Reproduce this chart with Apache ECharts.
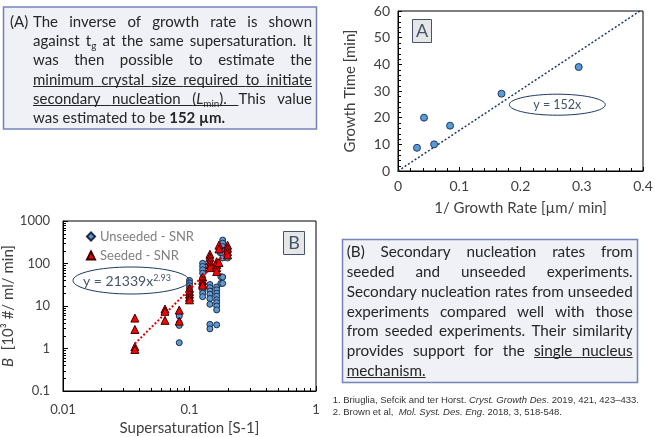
<!DOCTYPE html>
<html><head><meta charset="utf-8">
<script src="https://cdn.jsdelivr.net/npm/echarts@6/dist/echarts.min.js"></script>
<style>html,body{margin:0;padding:0;background:#fff}#c{width:655px;height:437px}</style>
</head><body><div id="c"></div>
<script>
// ---------- Chart A data ----------
const growthRateInv = [0.031, 0.0425, 0.059, 0.085, 0.169, 0.295];
const growthTime    = [8.7, 20, 10, 17, 29, 39];
const fitAX = [0, 0.395];
const fitAY = [0, 60];

// ---------- Chart B data ----------
const unseededS = [
  0.083,0.083,0.083,0.083,0.083,
  0.1,0.1,0.1,0.1,0.1,0.1,0.1,
  0.127,0.127,0.127,0.127,0.127,0.127,0.127,0.127,
  0.145,0.145,0.145,0.145,0.145,0.145,0.145,0.145,
  0.164,0.164,0.164,0.164,0.164,0.164,0.164,0.164,0.164,
  0.175,0.175,0.177,0.177,
  0.183,0.183,0.183,0.183,0.183,0.183,0.183,0.183,
  0.2,0.2,0.2,0.2
];
const unseededB = [
  6.7,5.8,4.0,3.5,1.37,
  40,35,30,26,22,18,15,
  101,85,71,59,45,24,20,16.6,
  32,27,22.5,19,15,11,3.7,2.9,
  28,24,20,17,14,12,10,8.1,3.6,
  230,180,49,34,
  355,300,250,205,170,135,48,34,
  210,175,150,135
];
const seededS = [
  0.037,0.037,0.037,0.037,
  0.064,0.064,0.064,
  0.083,0.083,
  0.1,0.1,0.1,0.1,0.1,
  0.127,0.127,0.127,0.127,
  0.145,0.145,0.145,0.145,0.145,
  0.164,0.164,0.164,0.164,
  0.171,0.171,0.171,
  0.2,0.2,0.2,0.2
];
const seededB = [
  5.2,2.8,1.1,0.95,
  8.5,7.5,4.6,
  8.0,4.4,
  26,22,19,16,14,
  48,40,34,31,
  165,140,115,95,80,
  110,95,80,65,
  270,220,105,
  270,230,190,160
];
const fitBS = [0.037, 0.2];
const fitBB = [1.3, 190];
const xMinorA = [0.02,0.04,0.06,0.08,0.12,0.14,0.16,0.18,0.22,0.24,0.26,0.28,0.32,0.34,0.36,0.38];
const yMinorA = [2,4,6,8,12,14,16,18,22,24,26,28,32,34,36,38,42,44,46,48,52,54,56,58];
const xMinorB = [0.02,0.03,0.04,0.05,0.06,0.07,0.08,0.09,0.2,0.3,0.4,0.5,0.6,0.7,0.8,0.9];
const yMinorB = [0.2,0.3,0.4,0.5,0.6,0.7,0.8,0.9,2,3,4,5,6,7,8,9,20,30,40,50,60,70,80,90,200,300,400,500,600,700,800,900];

// ---------- Text ----------
const textA = [
  'The inverse of growth rate is shown',
  'against t{s:g} at the same supersaturation. It',
  'was then possible to estimate the',
  '_minimum _crystal _size _required _to _initiate',
  '_secondary _nucleation _({i:L}{s:min}).^ This value',
  'was estimated to be {b:152} {b:µm.}'
];
const textB = [
  '(B) Secondary nucleation rates from',
  'seeded and unseeded experiments.',
  'Secondary nucleation rates from unseeded',
  'experiments compared well with those',
  'from seeded experiments. Their similarity',
  'provides support for the _single _nucleus',
  '_mechanism.'
];
const refs = [
  '1. Briuglia, Sefcik and ter Horst. {i|Cryst. Growth Des}. 2019, 421, 423–433.',
  '2. Brown et al,  {i|Mol. Syst. Des. Eng}. 2018, 3, 518-548.'
];

const FONT = 'Lato';
const TXT = '#262626';
const ctx = document.createElement('canvas').getContext('2d');
function segSize(sg, base){ return sg.sub ? base*0.66 : base; }
function segFont(sg, base){ return (sg.i?'italic ':'')+(sg.b?'bold ':'')+segSize(sg,base)+'px '+FONT; }
function segW(sg, base){ ctx.font = segFont(sg, base); return ctx.measureText(sg.t).width; }
function parseWord(str){
  let u=false, ug=false;
  if(str[0]==='_'){u=true; str=str.slice(1);}
  if(str.endsWith('^')){ug=true; str=str.slice(0,-1);}
  const segs=[]; const re=/\{([bis]):([^}]*)\}|([^{]+)/g; let m;
  while((m=re.exec(str))){
    if(m[1]) segs.push({t:m[2], b:m[1]==='b', i:m[1]==='i', sub:m[1]==='s'});
    else segs.push({t:m[3]});
  }
  return {segs,u,ug};
}
function wordW(w, base){ return w.segs.reduce((a,s)=>a+segW(s,base),0); }

function fitSize(lines, avail, maxS){
  let s = maxS;
  for(; s>9; s-=0.25){
    let ok = true;
    lines.forEach((ln, idx)=>{
      if(idx===lines.length-1) return;
      const ws = ln.split(' ').map(parseWord);
      ctx.font = s+'px '+FONT;
      const sp = ctx.measureText(' ').width*0.85;
      const tot = ws.reduce((a,w)=>a+wordW(w,s),0)+(ws.length-1)*sp;
      if(tot>avail) ok=false;
    });
    if(ok) break;
  }
  return s;
}

function layoutBlock(lines, x0, x1, yStart, lh, size, out){
  ctx.font = size+'px '+FONT;
  const spW = ctx.measureText(' ').width;
  lines.forEach((ln, idx)=>{
    const ws = ln.split(' ').map(parseWord);
    const widths = ws.map(w=>wordW(w,size));
    const last = idx===lines.length-1;
    const sum = widths.reduce((a,b)=>a+b,0);
    const gap = (!last && ws.length>1) ? (x1-x0-sum)/(ws.length-1) : spW;
    const y = yStart + idx*lh;
    let x = x0;
    ws.forEach((w,wi)=>{
      const wx = x;
      w.segs.forEach(sg=>{
        const sz = segSize(sg,size);
        out.push({type:'text', x:x, y: sg.sub ? y+4.5 : y, silent:true, z:10,
          style:{text:sg.t, fill:TXT, fontFamily:FONT, fontSize:sz,
                 fontWeight: sg.b?'bold':'normal', fontStyle: sg.i?'italic':'normal',
                 align:'left', verticalAlign:'middle'}});
        x += segW(sg,size);
      });
      if(w.u){
        const nextU = ws[wi+1] && ws[wi+1].u;
        const endX = (nextU || w.ug) ? x+gap : x;
        const uy = Math.round(y+6)+0.5;
        out.push({type:'line', silent:true, z:10, shape:{x1:wx,y1:uy,x2:endX,y2:uy}, style:{stroke:TXT,lineWidth:1}});
      }
      x += gap;
    });
  });
}

const graphics = [];
// Box A
graphics.push({type:'rect', silent:true, z:5, shape:{x:3.5,y:7,width:313,height:122}, style:{fill:'#eff1f6', stroke:'#7484b8', lineWidth:1.5}});
const sizeA = fitSize(textA.slice(0,5), 279, 15);
graphics.push({type:'text', x:10, y:21.7, silent:true, z:10, style:{text:'(A)', fill:TXT, fontFamily:FONT, fontSize:sizeA, align:'left', verticalAlign:'middle'}});
layoutBlock(textA, 33, 312, 21.7, 19.35, sizeA, graphics);
// Box B
graphics.push({type:'rect', silent:true, z:5, shape:{x:342.5,y:239.5,width:295,height:143}, style:{fill:'#eff1f6', stroke:'#7484b8', lineWidth:1.5}});
const sizeB = fitSize(textB, 286, 15.5);
layoutBlock(textB, 346.7, 632.7, 252.3, 19.8, sizeB, graphics);
// References
refs.forEach((r,i)=>{
  graphics.push({type:'text', x:332.7, y:400+i*12.7, silent:true, style:{text:r, fill:'#333', fontFamily:'Liberation Sans', fontSize:9.5, align:'left', verticalAlign:'middle', rich:{i:{fontStyle:'italic', fontFamily:'Liberation Sans', fontSize:9.5, fill:'#333'}}}});
});
// Label boxes
graphics.push({type:'rect', silent:true, z:20, shape:{x:412.5,y:19.5,width:19,height:23}, style:{fill:'#e7e6e6', stroke:'#44546a', lineWidth:1}});
graphics.push({type:'text', x:422, y:31, silent:true, z:21, style:{text:'A', fill:'#44546a', fontFamily:FONT, fontSize:18, align:'center', verticalAlign:'middle'}});
graphics.push({type:'rect', silent:true, z:20, shape:{x:283.5,y:231.5,width:21,height:23}, style:{fill:'#e7e6e6', stroke:'#44546a', lineWidth:1}});
graphics.push({type:'text', x:294, y:243, silent:true, z:21, style:{text:'B', fill:'#44546a', fontFamily:FONT, fontSize:18, align:'center', verticalAlign:'middle'}});
// Ellipses
graphics.push({type:'ellipse', silent:true, z:20, shape:{cx:557.3, cy:104.7, rx:48, ry:10.5}, style:{fill:'none', stroke:'#1f3864', lineWidth:1}});
graphics.push({type:'text', x:557.3, y:105, silent:true, z:21, style:{text:'y = 152x', fill:'#44546a', fontFamily:FONT, fontSize:12.5, align:'center', verticalAlign:'middle'}});
graphics.push({type:'ellipse', silent:true, z:20, shape:{cx:131, cy:280.5, rx:58, ry:13.5}, style:{fill:'none', stroke:'#1f3864', lineWidth:1}});
graphics.push({type:'text', x:127, y:281, silent:true, z:21, style:{text:'{n|y = 21339x}{s|2.93}', align:'center', verticalAlign:'middle',
  rich:{n:{fontFamily:FONT, fontSize:14, lineHeight:15, fill:'#44546a', verticalAlign:'bottom'}, s:{fontFamily:FONT, fontSize:9, lineHeight:9, fill:'#44546a', verticalAlign:'top'}}}});

const axisCommon = {
  axisLine:{show:true, onZero:false, lineStyle:{color:'#000', width:1}},
  axisTick:{show:true, inside:true, length:4, lineStyle:{color:'#000', width:1}},
  splitLine:{show:false},
  nameLocation:'middle'
};
const labelA = {color:'#404040', fontSize:14, fontFamily:FONT};
const nameA = {color:'#404040', fontSize:15, fontFamily:FONT};

const tickSeries = (vals, isX, gi, base)=>({
  type:'custom', xAxisIndex:gi, yAxisIndex:gi, silent:true, z:6, clip:false,
  data: vals.map(v=> isX ? [v, base] : [base, v]),
  renderItem:(p, api)=>{
    const pt = api.coord([api.value(0), api.value(1)]);
    if(isX){ const x=Math.round(pt[0])+0.5; return {type:'line', shape:{x1:x,y1:pt[1],x2:x,y2:pt[1]-3}, style:{stroke:'#000',lineWidth:1}}; }
    const y=Math.round(pt[1])+0.5; return {type:'line', shape:{x1:pt[0],y1:y,x2:pt[0]+3,y2:y}, style:{stroke:'#000',lineWidth:1}};
  }
});

const option = {
  backgroundColor:'#fff',
  animation:false,
  textStyle:{fontFamily:FONT},
  grid:[
    {left:398, top:11, width:245, height:160, show:true, borderColor:'#000', borderWidth:1, backgroundColor:'transparent', containLabel:false, outerBoundsMode:'none'},
    {left:63, top:221, width:253, height:170, show:true, borderColor:'#000', borderWidth:1, backgroundColor:'transparent', containLabel:false, outerBoundsMode:'none'}
  ],
  legend:{
    orient:'vertical', left:81, top:225, itemWidth:8, itemHeight:8, itemGap:6, selectedMode:false,
    textStyle:{color:'#7f7f7f', fontSize:13, fontFamily:FONT},
    data:[{name:'Unseeded - SNR', icon:'diamond'},{name:'Seeded - SNR', icon:'triangle'}]
  },
  xAxis:[
    Object.assign({}, axisCommon, {gridIndex:0, type:'value', min:0, max:0.4, interval:0.1,
      axisLabel:Object.assign({margin:8}, labelA),
      name:'1/ Growth Rate [µm/ min]', nameGap:30, nameTextStyle:nameA}),
    Object.assign({}, axisCommon, {gridIndex:1, type:'log', logBase:10, min:0.01, max:1,
      axisTick:{show:true, inside:true, length:5, lineStyle:{color:'#000', width:1}},
      axisLabel:{margin:12, color:'#404040', fontSize:13, fontFamily:FONT, formatter:v=>String(v)},
      name:'Supersaturation [S-1]', nameGap:30, nameTextStyle:nameA})
  ],
  yAxis:[
    Object.assign({}, axisCommon, {gridIndex:0, type:'value', min:0, max:60, interval:10,
      axisLabel:Object.assign({margin:8}, labelA),
      name:'Growth Time [min]', nameGap:40, nameTextStyle:nameA}),
    Object.assign({}, axisCommon, {gridIndex:1, type:'log', logBase:10, min:0.1, max:1000,
      axisTick:{show:true, inside:true, length:5, lineStyle:{color:'#000', width:1}},
      axisLabel:{margin:13, color:'#404040', fontSize:13, fontFamily:FONT, formatter:v=>String(v)},
      name:'{i|B}  [10³ #/ ml/ min]', nameGap:42,
      nameTextStyle:Object.assign({}, nameA, {rich:{i:{fontStyle:'italic', fontSize:15, fontFamily:FONT, color:'#404040'}}})})
  ],
  series:[
    {name:'Growth', type:'scatter', xAxisIndex:0, yAxisIndex:0, symbol:'circle', symbolSize:7, z:4,
      itemStyle:{color:'#5b9bd5', borderColor:'#1f3864', borderWidth:1, opacity:1},
      data: growthRateInv.map((x,i)=>[x, growthTime[i]])},
    {name:'FitA', type:'line', xAxisIndex:0, yAxisIndex:0, symbol:'none', z:3,
      lineStyle:{color:'#1f3864', width:1.5, type:[2,2]},
      data: fitAX.map((x,i)=>[x, fitAY[i]])},
    {name:'Unseeded - SNR', type:'scatter', xAxisIndex:1, yAxisIndex:1, symbol:'circle', symbolSize:6, z:4,
      itemStyle:{color:'#5b9bd5', borderColor:'#1f2a44', borderWidth:1, opacity:1},
      data: unseededS.map((x,i)=>[x, unseededB[i]])},
    {name:'Seeded - SNR', type:'scatter', xAxisIndex:1, yAxisIndex:1, symbol:'triangle', symbolSize:8, z:5,
      itemStyle:{color:'#ff0000', borderColor:'#3a0000', borderWidth:1, opacity:1},
      data: seededS.map((x,i)=>[x, seededB[i]])},
    {name:'FitB', type:'line', xAxisIndex:1, yAxisIndex:1, symbol:'none', z:6,
      lineStyle:{color:'#e00000', width:2, type:[2,2]},
      data: fitBS.map((x,i)=>[x, fitBB[i]])},
    tickSeries(xMinorA, true, 0, 0),
    tickSeries(yMinorA, false, 0, 0),
    tickSeries(xMinorB, true, 1, 0.1),
    tickSeries(yMinorB, false, 1, 0.01)
  ],
  graphic: graphics
};
const chart = echarts.init(document.getElementById('c'), null, {renderer:'canvas'});
chart.setOption(option);
</script></body></html>
